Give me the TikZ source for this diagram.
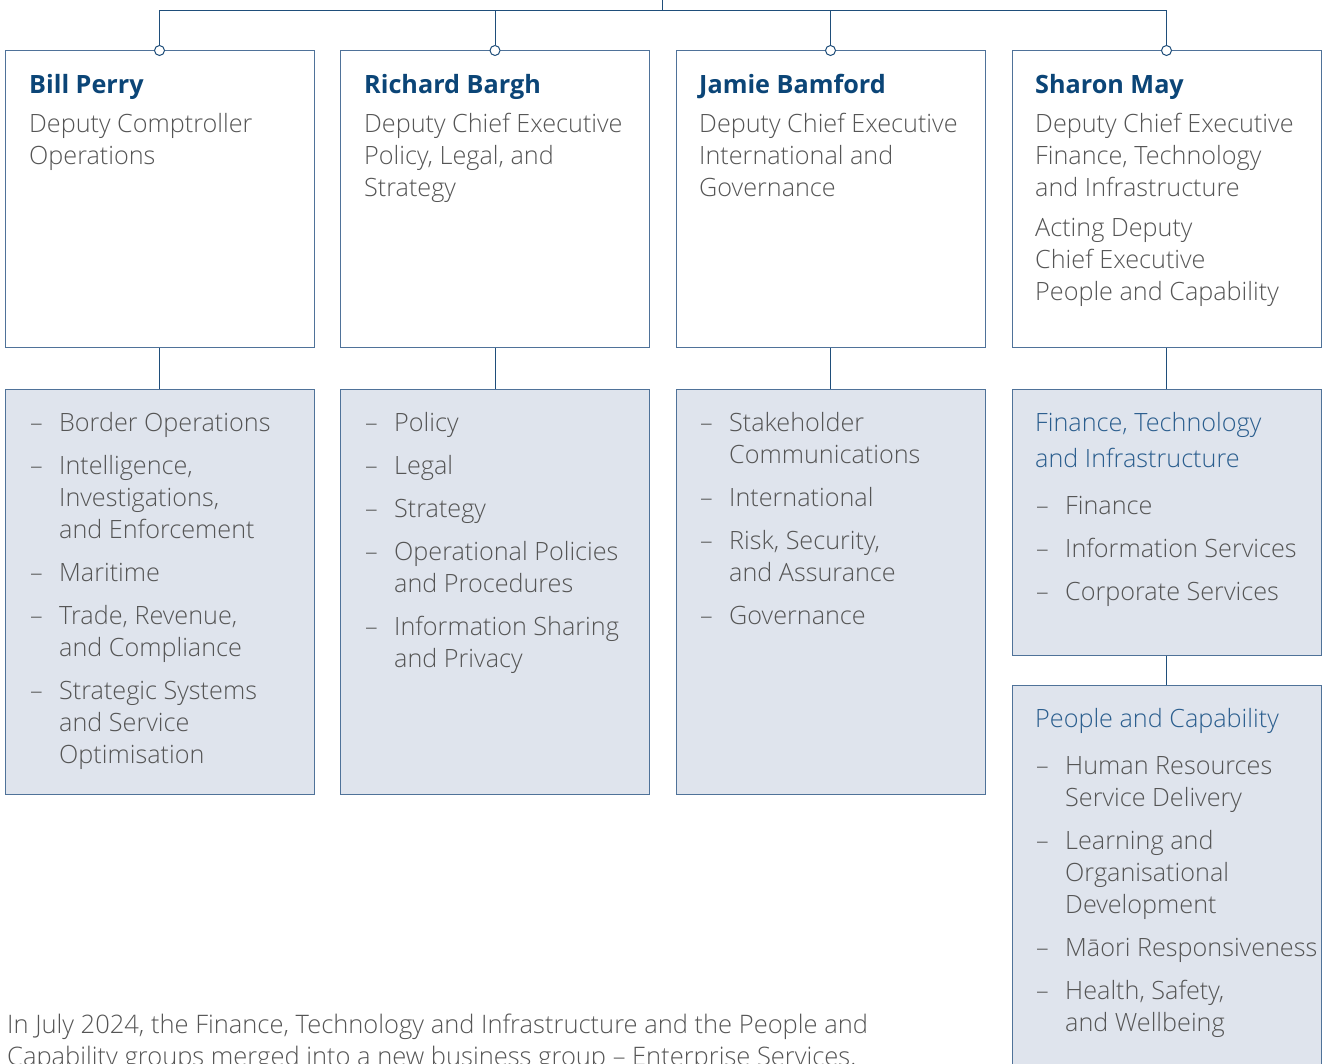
\documentclass[tikz,border=0pt]{standalone}
\usepackage{fontspec}
\setmainfont{Open Sans Light}[BoldFont={Open Sans Bold}]
\usetikzlibrary{calc}
\definecolor{lineblue}{HTML}{1F4E7A}
\definecolor{boxedge}{HTML}{4F7299}
\definecolor{namecol}{HTML}{0B4577}
\definecolor{headcol}{HTML}{2B5E8E}
\definecolor{textcol}{HTML}{555555}
\definecolor{fillcol}{HTML}{DFE4ED}
\newcommand{\dsh}{\makebox[29pt][l]{–}}
\begin{document}
\begin{tikzpicture}[x=1pt,y=-1pt,
  topbox/.style={draw=boxedge,line width=1pt,fill=white,minimum width=309pt,minimum height=297pt,inner sep=0pt},
  lowbox/.style={draw=boxedge,line width=1pt,fill=fillcol,minimum width=309pt,inner sep=0pt},
  conn/.style={draw=lineblue,line width=1pt},
  dot/.style={circle,draw=lineblue,line width=1pt,fill=white,minimum size=10pt,inner sep=0pt},
  txt/.style={anchor=base west,inner sep=0pt,text=textcol,font=\fontsize{25.2}{32}\selectfont},
  nametxt/.style={anchor=base west,inner sep=0pt,text=namecol,font=\fontsize{25.2}{32}\selectfont\bfseries},
  headtxt/.style={anchor=base west,inner sep=0pt,text=headcol,font=\fontsize{25.2}{36}\selectfont},
]
\useasboundingbox (0,0) rectangle (1322,1064);
% top boxes
\node[topbox] (t1) at (159.5,199.5) {};
\node[topbox] (t2) at (495,199.5) {};
\node[topbox] (t3) at (830.5,199.5) {};
\node[topbox] (t4) at (1166.5,199.5) {};
% lower boxes
\node[lowbox,minimum height=405pt] (l1) at (159.5,591.5) {};
\node[lowbox,minimum height=405pt] (l2) at (495,591.5) {};
\node[lowbox,minimum height=405pt] (l3) at (830.5,591.5) {};
\node[lowbox,minimum height=266pt] (l4a) at (1166.5,522) {};
\node[lowbox,minimum height=390pt] (l4b) at (1166.5,880) {};
% connectors
\foreach \i in {1,2,3}{\draw[conn] (t\i.south) -- (l\i.north);}
\draw[conn] (t4.south) -- (l4a.north);
\draw[conn] (l4a.south) -- (l4b.north);
\coordinate (root) at (662,0);
\coordinate (bus) at (662,10.5);
\foreach \i in {1,2,3,4}{\node[dot] (c\i) at (t\i.north) {};}
\draw[conn] (c1.north) -- (c1.north |- bus) -- (c4.north |- bus) -- (c4.north);
\draw[conn] (c2.north) -- (c2.north |- bus);
\draw[conn] (c3.north) -- (c3.north |- bus);
\draw[conn] (root) -- (bus);
% names
\node[nametxt] (n1) at (29,94) {Bill Perry};
\node[nametxt] (n2) at (364,94) {Richard Bargh};
\node[nametxt] (n3) at (699,94) {Jamie Bamford};
\node[nametxt] (n4) at (1035,94) {Sharon May};
% descriptions
\node[txt] (d1) at (29,133) {\begin{tabular}[t]{@{}l@{}}Deputy Comptroller\\Operations\end{tabular}};
\node[txt] (d2) at (364,133) {\begin{tabular}[t]{@{}l@{}}Deputy Chief Executive\\Policy, Legal, and\\Strategy\end{tabular}};
\node[txt] (d3) at (699,133) {\begin{tabular}[t]{@{}l@{}}Deputy Chief Executive\\International and\\Governance\end{tabular}};
\node[txt] (d4) at (1035,133) {\begin{tabular}[t]{@{}l@{}}Deputy Chief Executive\\Finance, Technology\\and Infrastructure\\[8pt]Acting Deputy\\Chief Executive\\People and Capability\end{tabular}};
% items
\node[txt] (i1) at (30,431) {\begin{tabular}[t]{@{}l@{}l@{}}\dsh&Border Operations\\[11pt]
\dsh&Intelligence,\\&Investigations,\\&and Enforcement\\[11pt]
\dsh&Maritime\\[11pt]
\dsh&Trade, Revenue,\\&and Compliance\\[11pt]
\dsh&Strategic Systems\\&and Service\\&Optimisation\end{tabular}};
\node[txt] (i2) at (365,431) {\begin{tabular}[t]{@{}l@{}l@{}}\dsh&Policy\\[11pt]
\dsh&Legal\\[11pt]
\dsh&Strategy\\[11pt]
\dsh&Operational Policies\\&and Procedures\\[11pt]
\dsh&Information Sharing\\&and Privacy\end{tabular}};
\node[txt] (i3) at (700,431) {\begin{tabular}[t]{@{}l@{}l@{}}\dsh&Stakeholder\\&Communications\\[11pt]
\dsh&International\\[11pt]
\dsh&Risk, Security,\\&and Assurance\\[11pt]
\dsh&Governance\end{tabular}};
\node[headtxt] (h4a) at (1035,431) {\begin{tabular}[t]{@{}l@{}}Finance, Technology\\and Infrastructure\end{tabular}};
\node[txt] (i4a) at (1036,514) {\begin{tabular}[t]{@{}l@{}l@{}}\dsh&Finance\\[11pt]
\dsh&Information Services\\[11pt]
\dsh&Corporate Services\end{tabular}};
\node[headtxt] (h4b) at (1035,727) {People and Capability};
\node[txt] (i4b) at (1036,774) {\begin{tabular}[t]{@{}l@{}l@{}}\dsh&Human Resources\\&Service Delivery\\[11pt]
\dsh&Learning and\\&Organisational\\&Development\\[11pt]
\dsh&Māori Responsiveness\\[11pt]
\dsh&Health, Safety,\\&and Wellbeing\end{tabular}};
% footnote
\node[txt,font=\fontsize{25.5}{32}\selectfont] (foot) at (7,1033) {\begin{tabular}[t]{@{}l@{}}In July 2024, the Finance, Technology and Infrastructure and the People and\\Capability groups merged into a new business group – Enterprise Services.\end{tabular}};
\end{tikzpicture}
\end{document}
